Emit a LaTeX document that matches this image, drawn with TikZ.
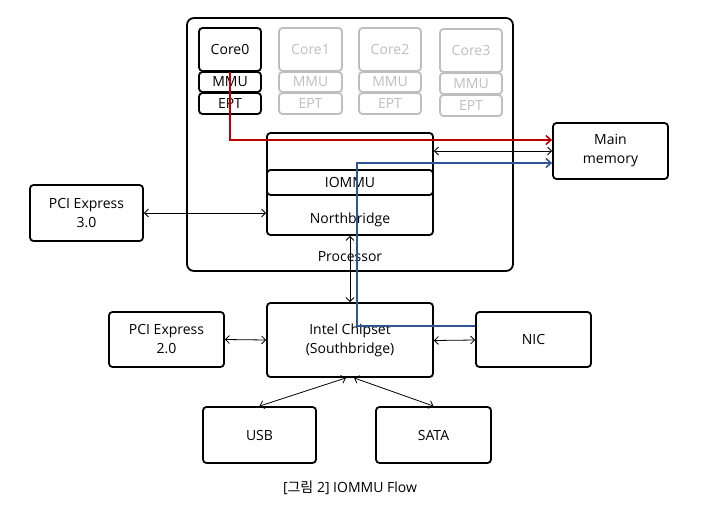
\documentclass[tikz,border=0pt]{standalone}
\usepackage{fontspec}
\setmainfont{Open Sans}
\newfontfamily\krfont{Noto Sans CJK KR}
\usetikzlibrary{arrows.meta,positioning,calc}
\definecolor{redline}{RGB}{192,0,0}
\definecolor{blueline}{RGB}{47,85,151}
\definecolor{greybox}{RGB}{190,190,190}
\begin{document}
\begin{tikzpicture}[x=1pt,y=-1pt,
  lbl/.style={font=\fontsize{14}{19}\selectfont},
  box/.style={draw=black,line width=1.8pt,rounded corners=3.5pt,inner sep=0pt,align=center,lbl},
  gbox/.style={box,draw=greybox,text=greybox},
  conn/.style={line width=0.8pt,{Straight Barb[length=4pt,width=8pt]}-{Straight Barb[length=4pt,width=8pt]}},
  flow/.style={line width=1.6pt,-{Straight Barb[length=5pt,width=9pt,line width=1.6pt]}}]
\useasboundingbox (0,0) rectangle (706,508);
% processor
\node[box,rounded corners=7pt,minimum width=326pt,minimum height=253pt] (proc) at (350,144.5) {};
\node[lbl] (proclbl) at (350,257) {Processor};
% cores
\node[box,minimum width=62pt,minimum height=43pt] (core0) at (230,49.5) {Core0};
\node[box,minimum width=62pt,minimum height=20pt] (mmu0) at (230,82) {MMU};
\node[box,minimum width=62pt,minimum height=21pt] (ept0) at (230,103.5) {EPT};
\node[gbox,minimum width=63pt,minimum height=43pt] (core1) at (310.5,49.5) {Core1};
\node[gbox,minimum width=63pt,minimum height=20pt] (mmu1) at (310.5,82) {MMU};
\node[gbox,minimum width=63pt,minimum height=21pt] (ept1) at (310.5,103.5) {EPT};
\node[gbox,minimum width=62pt,minimum height=43pt] (core2) at (390,49.5) {Core2};
\node[gbox,minimum width=62pt,minimum height=20pt] (mmu2) at (390,82) {MMU};
\node[gbox,minimum width=62pt,minimum height=21pt] (ept2) at (390,103.5) {EPT};
\node[gbox,minimum width=62pt,minimum height=43pt] (core3) at (471,50.5) {Core3};
\node[gbox,minimum width=62pt,minimum height=21pt] (mmu3) at (471,83.5) {MMU};
\node[gbox,minimum width=62pt,minimum height=21pt] (ept3) at (471,105.5) {EPT};
% northbridge
\node[box,minimum width=166pt,minimum height=102pt] (nb) at (350,184) {};
\node[box,minimum width=166pt,minimum height=25pt] (iommu) at (350,182.5) {IOMMU};
\node[lbl] (nblbl) at (350,220) {Northbridge};
% others
\node[box,minimum width=115pt,minimum height=56pt] (mm) at (610.5,151) {Main\\memory};
\node[box,minimum width=113pt,minimum height=56pt] (pci3) at (86.5,213) {PCI Express\\3.0};
\node[box,minimum width=166pt,minimum height=74pt] (chip) at (350,340) {Intel Chipset\\(Southbridge)};
\node[box,minimum width=115pt,minimum height=55pt] (pci2) at (166.5,339.5) {PCI Express\\2.0};
\node[box,minimum width=115pt,minimum height=55pt] (nic) at (533.5,339.5) {NIC};
\node[box,minimum width=113pt,minimum height=56pt] (usb) at (259.5,435) {USB};
\node[box,minimum width=115pt,minimum height=56pt] (sata) at (433.5,435) {SATA};
\node[lbl] (cap) at (350,488) {[{\krfont 그림} 2] IOMMU Flow};
% connectors
\draw[conn] (pci3.east) -- (pci3.east -| nb.west);
\draw[conn] ([yshift=33pt]nb.east) -- (mm.west);
\draw[conn] (chip.north) -- (nb.south);
\draw[conn] (pci2.east) -- (chip.west);
\draw[conn] ([yshift=-0.5pt]chip.east) -- ([yshift=-0.5pt]nic.west);
\draw[conn] ([xshift=-4pt]chip.south) -- (usb.north);
\draw[conn] ([xshift=4pt]chip.south) -- (sata.north);
\draw[flow,draw=redline] (core0.south) |- ([yshift=11pt]mm.west);
\draw[flow,draw=blueline] ([yshift=13.5pt]nic.west) -- ++(-118,0) |- ([yshift=-12pt]mm.west);
\end{tikzpicture}
\end{document}
